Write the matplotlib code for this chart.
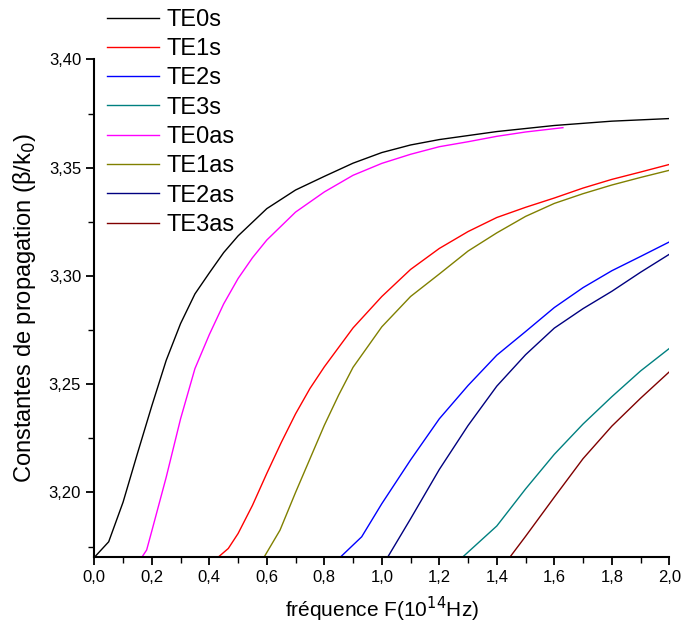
import matplotlib
matplotlib.use('Agg')
import matplotlib.pyplot as plt
from matplotlib.ticker import MultipleLocator, FuncFormatter

plt.rcParams['font.family'] = ['Liberation Sans', 'DejaVu Sans']

# mode curves: frequency (1e14 Hz) vs effective index beta/k0
x_te0s = [0, 0.05, 0.1, 0.15, 0.2, 0.25, 0.3, 0.35, 0.4, 0.45, 0.5, 0.6, 0.7, 0.8, 0.9, 1.0, 1.1, 1.2, 1.4, 1.6, 1.8, 2.0]
y_te0s = [3.170, 3.1772, 3.1955, 3.218, 3.240, 3.261, 3.278, 3.2917, 3.3014, 3.3108, 3.3185, 3.3311, 3.3397, 3.346, 3.3521, 3.357, 3.3605, 3.363, 3.3667, 3.3695, 3.3715, 3.3727]

x_te1s = [0.43, 0.466, 0.5, 0.55, 0.6, 0.65, 0.7, 0.75, 0.8, 0.9, 1.0, 1.1, 1.2, 1.3, 1.4, 1.5, 1.6, 1.7, 1.8, 1.9, 2.0]
y_te1s = [3.170, 3.1741, 3.181, 3.194, 3.2088, 3.223, 3.2363, 3.248, 3.258, 3.276, 3.2905, 3.303, 3.3127, 3.3205, 3.327, 3.3317, 3.336, 3.3406, 3.3446, 3.348, 3.3515]

x_te2s = [0.855, 0.93, 1.0, 1.1, 1.2, 1.3, 1.4, 1.5, 1.6, 1.7, 1.8, 1.9, 2.0]
y_te2s = [3.170, 3.1795, 3.1948, 3.2150, 3.2340, 3.2494, 3.2634, 3.2743, 3.2854, 3.2946, 3.3024, 3.309, 3.3157]

x_te3s = [1.28, 1.4, 1.5, 1.6, 1.7, 1.8, 1.9, 2.0]
y_te3s = [3.170, 3.1845, 3.2016, 3.2176, 3.2316, 3.2442, 3.2561, 3.2665]

x_te0as = [0.165, 0.182, 0.2, 0.25, 0.3, 0.35, 0.4, 0.45, 0.5, 0.55, 0.6, 0.7, 0.8, 0.9, 1.0, 1.1, 1.2, 1.3, 1.4, 1.5, 1.63]
y_te0as = [3.170, 3.1734, 3.1822, 3.207, 3.234, 3.2572, 3.2729, 3.2871, 3.2988, 3.3084, 3.3166, 3.3295, 3.3388, 3.3465, 3.352, 3.3562, 3.3597, 3.362, 3.3645, 3.3665, 3.3685]

x_te1as = [0.59, 0.646, 0.7, 0.75, 0.8, 0.85, 0.9, 1.0, 1.1, 1.2, 1.3, 1.4, 1.5, 1.6, 1.7, 1.8, 1.9, 2.0]
y_te1as = [3.170, 3.1826, 3.200, 3.2155, 3.231, 3.245, 3.2578, 3.2765, 3.2905, 3.3009, 3.3115, 3.3199, 3.3275, 3.3335, 3.338, 3.342, 3.3455, 3.3488]

x_te2as = [1.02, 1.1, 1.2, 1.3, 1.4, 1.5, 1.6, 1.7, 1.8, 1.9, 2.0]
y_te2as = [3.170, 3.1878, 3.2106, 3.2309, 3.2491, 3.2636, 3.2759, 3.2849, 3.2929, 3.3017, 3.310]

x_te3as = [1.445, 1.5, 1.6, 1.7, 1.8, 1.9, 2.0]
y_te3as = [3.170, 3.1797, 3.1978, 3.2156, 3.2306, 3.2435, 3.2557]

curves = [
    ('TE0s', x_te0s, y_te0s, 'black'),
    ('TE1s', x_te1s, y_te1s, '#ff0000'),
    ('TE2s', x_te2s, y_te2s, '#0000ff'),
    ('TE3s', x_te3s, y_te3s, '#008080'),
    ('TE0as', x_te0as, y_te0as, '#ff00ff'),
    ('TE1as', x_te1as, y_te1as, '#808000'),
    ('TE2as', x_te2as, y_te2as, '#000080'),
    ('TE3as', x_te3as, y_te3as, '#800000'),
]

fig = plt.figure(figsize=(6.81, 6.28), dpi=100)
ax = fig.add_axes([0.1385, 0.1135, 0.8443, 0.7918])

for name, xs, ys, col in curves:
    ax.plot(xs, ys, color=col, linewidth=1.0, label=name)

ax.set_xlim(0, 2.0)
ax.set_ylim(3.1703, 3.40)

# only left and bottom axes, ticks pointing out
ax.spines['top'].set_visible(False)
ax.spines['right'].set_visible(False)
ax.spines['left'].set_linewidth(1.5)
ax.spines['bottom'].set_linewidth(1.5)
ax.xaxis.set_major_locator(MultipleLocator(0.2))
ax.xaxis.set_minor_locator(MultipleLocator(0.1))
ax.yaxis.set_major_locator(MultipleLocator(0.05))
ax.yaxis.set_minor_locator(MultipleLocator(0.025))
ax.xaxis.set_major_formatter(FuncFormatter(lambda v, p: f"{v:.1f}".replace('.', ',')))
ax.yaxis.set_major_formatter(FuncFormatter(lambda v, p: f"{v:.2f}".replace('.', ',')))
ax.tick_params(which='major', direction='out', length=6, width=1.3, labelsize=12)
ax.tick_params(which='minor', direction='out', length=4, width=1.0)

ax.set_xlabel('fréquence F(10$^{14}$Hz)', fontsize=15, labelpad=7)
ax.set_ylabel('Constantes de propagation (β/k$_0$)', fontsize=17, labelpad=8)

leg = ax.legend(loc='upper left', bbox_to_anchor=(107 / 681, 0.986), bbox_transform=fig.transFigure,
                frameon=False, fontsize=17, handlelength=2.2, handletextpad=0.3,
                labelspacing=0.31, borderaxespad=0, borderpad=0)

fig.savefig('out.png', dpi=100)
